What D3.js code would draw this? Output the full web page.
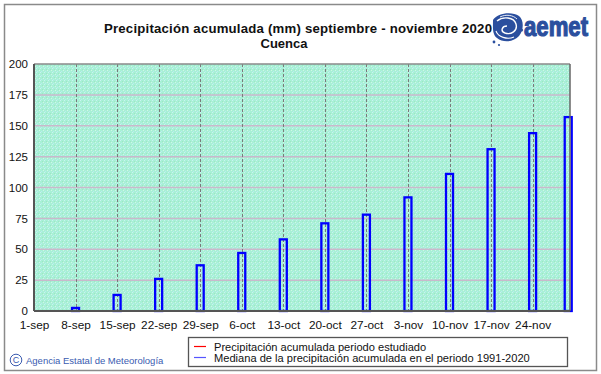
<!DOCTYPE html>
<html><head><meta charset="utf-8">
<script src="https://cdn.jsdelivr.net/npm/d3@7"></script>
<style>body{margin:0;background:#fff}svg{display:block}</style>
</head><body>
<svg id="c" width="601" height="374"></svg>
<script>
const tickLabels = ["1-sep","8-sep","15-sep","22-sep","29-sep","6-oct","13-oct","20-oct","27-oct","3-nov","10-nov","17-nov","24-nov"];
const tickDays = [0,7,14,21,28,35,42,49,56,63,70,77,84];
const barDays = [7,14,21,28,35,42,49,56,63,70,77,84,90];
const medianValues = [2.5,13,26,37,47,58,71,78,92,111,131,144,157];
const yTicks = [0,25,50,75,100,125,150,175,200];

const svg = d3.select("#c");
const F = "Liberation Sans, Arial, sans-serif";
const L=34,R=570,T=64,B=311;
const x = d3.scaleLinear().domain([0,90.3]).range([L,R]);
const y = d3.scaleLinear().domain([0,200]).range([B,T]);

// outer frame
svg.append("rect").attr("x",4.5).attr("y",4.5).attr("width",592).attr("height",366)
  .attr("fill","#fff").attr("stroke","#8a8a8a").attr("stroke-width",1.5);

// plot background
const defs = svg.append("defs");
const pat = defs.append("pattern").attr("id","spk").attr("width",4).attr("height",4).attr("patternUnits","userSpaceOnUse");
pat.append("rect").attr("width",4).attr("height",4).attr("fill","#a8f0d6");
pat.append("rect").attr("x",0).attr("y",0).attr("width",1).attr("height",1).attr("fill","#c8f4f0");
pat.append("rect").attr("x",2).attr("y",1).attr("width",1).attr("height",1).attr("fill","#9ee6c4");
pat.append("rect").attr("x",1).attr("y",3).attr("width",1).attr("height",1).attr("fill","#b8ecf0");
pat.append("rect").attr("x",3).attr("y",2).attr("width",1).attr("height",1).attr("fill","#d0f6e6");
svg.append("rect").attr("x",L).attr("y",T).attr("width",R-L).attr("height",B-T).attr("fill","url(#spk)");

// horizontal grid
svg.append("g").selectAll("line").data(yTicks.filter(d=>d>0&&d<200)).join("line")
  .attr("x1",L).attr("x2",R).attr("y1",d=>y(d)).attr("y2",d=>y(d))
  .attr("stroke","#c9b9cc").attr("stroke-width",1.5);

// vertical dashed grid
svg.append("g").selectAll("line").data(tickDays.slice(1)).join("line")
  .attr("x1",d=>Math.round(x(d))+0.5).attr("x2",d=>Math.round(x(d))+0.5).attr("y1",T).attr("y2",B)
  .attr("stroke","#7a7a7a").attr("stroke-width",1).attr("stroke-dasharray","3,2");

// bars
svg.append("g").selectAll("rect").data(barDays.map((d,i)=>({d,v:medianValues[i]}))).join("rect")
  .attr("x",d=>x(d.d)-3.5).attr("width",7)
  .attr("y",d=>y(d.v)).attr("height",d=>B-y(d.v))
  .attr("fill","none").attr("stroke","#0000ff").attr("stroke-width",2.3);

// plot border
svg.append("line").attr("x1",L).attr("x2",R).attr("y1",T).attr("y2",T).attr("stroke","#8a8a8a").attr("stroke-width",1.5);
svg.append("line").attr("x1",R).attr("x2",R).attr("y1",T).attr("y2",B).attr("stroke","#666").attr("stroke-width",1.5);
svg.append("line").attr("x1",L).attr("x2",L).attr("y1",T).attr("y2",B).attr("stroke","#555").attr("stroke-width",2);
svg.append("line").attr("x1",L).attr("x2",R).attr("y1",B).attr("y2",B).attr("stroke","#555").attr("stroke-width",2);

// y axis labels
const yAxis = d3.axisLeft(y).tickValues(yTicks).tickSize(0).tickPadding(6);
const ga = svg.append("g").attr("transform",`translate(${L},0)`).call(yAxis);
ga.select(".domain").remove();
ga.selectAll("text").attr("font-family",F).attr("font-size",11.5).attr("fill","#111");

// x axis labels
const xAxis = d3.axisBottom(x).tickValues(tickDays).tickFormat((d,i)=>tickLabels[i]).tickSize(0).tickPadding(10);
const gx = svg.append("g").attr("transform",`translate(0,${B})`).call(xAxis);
gx.select(".domain").remove();
gx.selectAll("text").attr("font-family",F).attr("font-size",11.8).attr("fill","#111");

// title
svg.append("text").attr("x",298).attr("y",33).attr("text-anchor","middle")
  .attr("font-family",F).attr("font-weight","bold").attr("font-size",13.2).attr("fill","#111")
  .attr("textLength",388).attr("lengthAdjust","spacing")
  .text("Precipitación acumulada (mm) septiembre - noviembre 2020");
svg.append("text").attr("x",284).attr("y",48).attr("text-anchor","middle")
  .attr("font-family",F).attr("font-weight","bold").attr("font-size",13).attr("fill","#111")
  .text("Cuenca");

// logo
const lg = svg.append("g");
lg.append("path").attr("d","M493,20 C497,13 512,11 519,16 C524,20 524,30 519,36 C514,42 503,43 497,38 C492,34 493,27 493,20 Z")
  .attr("fill","#2b4f9e");
lg.append("path").attr("d","M497,21 C503,16 514,17 516,24 C518,31 511,35 505,33 C500,31 502,26 507,26")
  .attr("fill","none").attr("stroke","#fff").attr("stroke-width",1.4);
lg.append("path").attr("d","M496,31 C498,37 507,40 514,37").attr("fill","none").attr("stroke","#fff").attr("stroke-width",1.1);
lg.append("path").attr("d","M500,17 C506,14 513,15 517,19").attr("fill","none").attr("stroke","#fff").attr("stroke-width",0.9);
lg.append("circle").attr("cx",494).attr("cy",42).attr("r",1.4).attr("fill","#2b4f9e");
lg.append("circle").attr("cx",499).attr("cy",45).attr("r",1.1).attr("fill","#2b4f9e");
lg.append("circle").attr("cx",521.5).attr("cy",30).attr("r",1.6).attr("fill","#2b4f9e");
lg.append("text").attr("x",524).attr("y",36).attr("font-family",F).attr("font-weight","bold")
  .attr("font-size",27).attr("fill","#2b4f9e").attr("stroke","#2b4f9e").attr("stroke-width",1.2)
  .attr("textLength",64).attr("lengthAdjust","spacingAndGlyphs").text("aemet");

// legend
svg.append("rect").attr("x",188.5).attr("y",337.5).attr("width",379).attr("height",29).attr("fill","#fff").attr("stroke","#555").attr("stroke-width",1.3);
const legItems = [{c:"#ff0000",t:"Precipitación acumulada periodo estudiado"},{c:"#5555ff",t:"Mediana de la precipitación acumulada en el periodo 1991-2020"}];
legItems.forEach((it,i)=>{
  const yy = 346.5+i*11;
  svg.append("line").attr("x1",194).attr("x2",206).attr("y1",yy).attr("y2",yy).attr("stroke",it.c).attr("stroke-width",1.2);
  svg.append("text").attr("x",214).attr("y",yy+4).attr("font-family",F).attr("font-size",11.1).attr("fill","#111").text(it.t);
});

// footer
svg.append("circle").attr("cx",16).attr("cy",360).attr("r",5.8).attr("fill","none").attr("stroke","#3a5bb0").attr("stroke-width",1);
svg.append("text").attr("x",16).attr("y",363.3).attr("text-anchor","middle").attr("font-family",F).attr("font-size",9).attr("fill","#3a5bb0").text("C");
svg.append("text").attr("x",26).attr("y",364).attr("font-family",F).attr("font-size",9.5).attr("fill","#3a5bb0").text("Agencia Estatal de Meteorología");
</script>
</body></html>
